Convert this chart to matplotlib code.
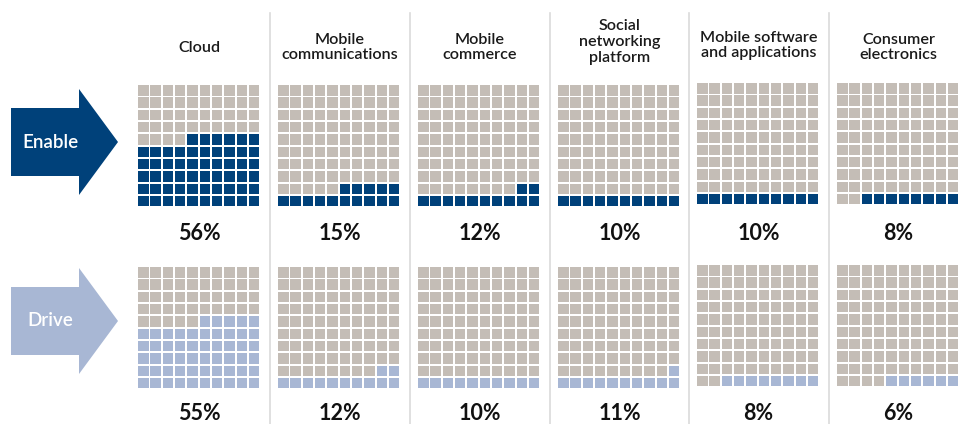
import matplotlib
matplotlib.use("Agg")
import matplotlib.pyplot as plt
from matplotlib.patches import Rectangle, Polygon

# data
categories = ["Cloud", "Mobile\ncommunications", "Mobile\ncommerce",
              "Social\nnetworking\nplatform", "Mobile software\nand applications",
              "Consumer\nelectronics"]
enable = [56, 15, 12, 10, 10, 8]
drive = [55, 12, 10, 11, 8, 6]
row_labels = ["Enable", "Drive"]

dark_blue = "#00417A"
light_blue = "#A8B7D4"
grey = "#C4BDB6"
sep = "#DADADA"

fig = plt.figure(figsize=(9.65, 4.24), dpi=100)
ax = fig.add_axes([0, 0, 1, 1])
ax.set_xlim(0, 965)
ax.set_ylim(424, 0)
ax.axis("off")

col_x = [138, 278, 418, 558, 697, 837]
top_enable = [85, 85, 85, 85, 83, 83]
top_drive = [267, 267, 267, 267, 265, 265]
title_y = [48, 47.5, 47.5, 42, 45.5, 47.5]
pitch = 12.32
cell = 10.5


def waffle(x0, y0, n, color):
    for r in range(10):          # r = 0 is the bottom row
        for c in range(10):
            k = r * 10 + (9 - c)
            fc = color if k < n else grey
            ax.add_patch(Rectangle((x0 + c * pitch, y0 + (9 - r) * pitch),
                                   cell, cell, facecolor=fc, edgecolor="none"))


for i, name in enumerate(categories):
    cx = col_x[i] + 61.5
    waffle(col_x[i], top_enable[i], enable[i], dark_blue)
    waffle(col_x[i], top_drive[i], drive[i], light_blue)
    ax.text(cx, title_y[i], name, ha="center", va="center",
            fontsize=11.6, family="Lato", fontweight="semibold",
            linespacing=1.18, color="#1a1a1a")
    ax.text(cx, 233, f"{enable[i]}%", ha="center", va="center",
            fontsize=15.5, family="Lato", fontweight="bold", color="#111111")
    ax.text(cx, 423.5, f"{drive[i]}%", ha="center", va="bottom",
            fontsize=15.5, family="Lato", fontweight="bold", color="#111111")
    if i > 0:
        ax.plot([col_x[i] - 8.5] * 2, [13, 424], color=sep, lw=1.2)

# arrows
for label, yc, color in [("Enable", 142, dark_blue), ("Drive", 321, light_blue)]:
    pts = [(11, yc - 34), (79, yc - 34), (79, yc - 53), (118, yc),
           (79, yc + 53), (79, yc + 34), (11, yc + 34)]
    ax.add_patch(Polygon(pts, closed=True, facecolor=color, edgecolor="none"))
    ax.text(50, yc, label, ha="center", va="center", color="white",
            fontsize=13.5, family="Lato", fontweight="semibold")

fig.savefig("out.png", dpi=100)
